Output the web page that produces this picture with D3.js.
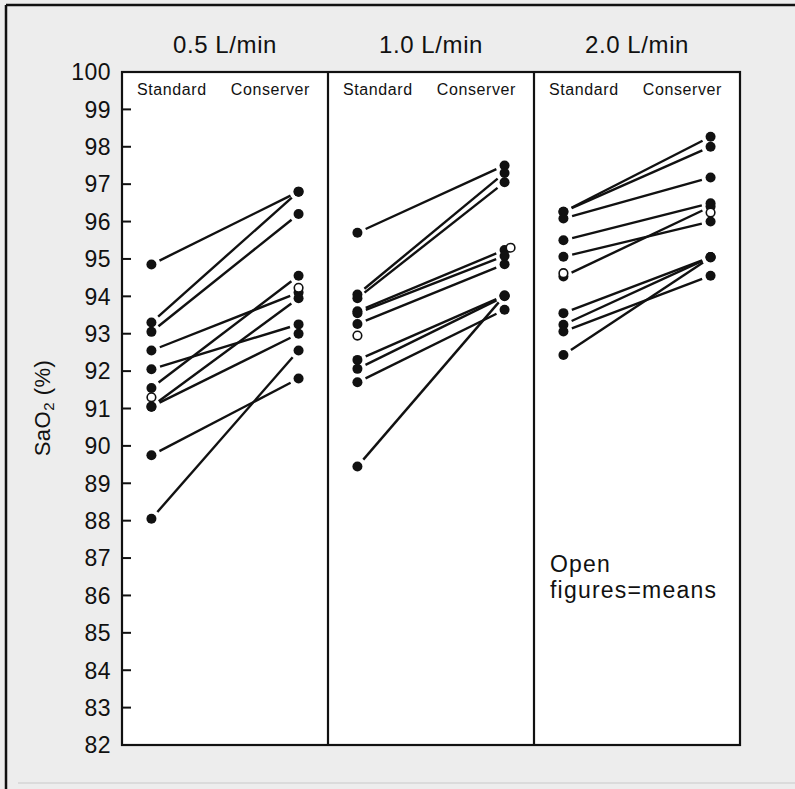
<!DOCTYPE html>
<html>
<head>
<meta charset="utf-8">
<script src="https://cdn.jsdelivr.net/npm/d3@7"></script>
<style>
  body { margin: 0; background: #ededed; }
  svg { display: block; font-family: "Liberation Sans", Arial, sans-serif; }
</style>
</head>
<body>
<svg id="chart" width="795" height="789"></svg>
<script>
// flow rates (one panel each) and the two devices
const panels = ["0.5 L/min", "1.0 L/min", "2.0 L/min"]
const devices = ["Standard", "Conserver"]
const yTicks = d3.range(82, 101)

// SaO2 per subject, same order in both arrays (one line per subject)
const standard05 = [94.85, 93.3, 93.05, 92.55, 92.05, 91.55, 91.05, 91.05, 89.75, 88.05]
const conserver05 = [96.8, 96.8, 96.2, 94.1, 93.25, 94.55, 93.95, 93.0, 91.8, 92.55]
const standard10 = [95.7, 94.05, 93.95, 93.6, 93.55, 93.26, 92.3, 92.06, 91.7, 89.45]
const conserver10 = [97.5, 97.3, 97.05, 95.24, 95.08, 94.86, 94.02, 94.0, 93.64, 94.02]
const standard20 = [96.26, 96.26, 96.08, 95.5, 95.06, 94.53, 93.55, 93.24, 93.06, 92.43]
const conserver20 = [98.27, 98.0, 97.18, 96.49, 96.0, 96.4, 95.05, 95.05, 94.55, 95.04]

// open figures = means
const meanStandard = [91.3, 92.95, 94.62]
const meanConserver = [94.23, 95.3, 96.24]

const standardAll = [standard05, standard10, standard20]
const conserverAll = [conserver05, conserver10, conserver20]

const svg = d3.select("#chart")

// page border like the scanned figure
svg.append("rect").attr("x", 0).attr("y", 0).attr("width", 795).attr("height", 789).attr("fill", "#ededed")
svg.append("line").attr("x1", 6).attr("x2", 6).attr("y1", 5).attr("y2", 789).attr("stroke", "#111").attr("stroke-width", 2.5)
svg.append("line").attr("x1", 6).attr("x2", 795).attr("y1", 5).attr("y2", 5).attr("stroke", "#111").attr("stroke-width", 2.5)
svg.append("line").attr("x1", 18).attr("x2", 795).attr("y1", 783).attr("y2", 783).attr("stroke", "#d4d4d4").attr("stroke-width", 1.5)

const plotLeft = 122, plotRight = 740, plotTop = 72, plotBottom = 745

const xPanel = d3.scaleBand().domain(panels).range([plotLeft, plotRight])
const xDev = d3.scalePoint().domain(devices).range([0, xPanel.bandwidth()]).padding(0.2)
const y = d3.scaleLinear().domain([82, 100]).range([plotBottom, plotTop])

// white plot area
svg.append("rect")
  .attr("x", plotLeft).attr("y", plotTop)
  .attr("width", plotRight - plotLeft).attr("height", plotBottom - plotTop)
  .attr("fill", "#fff")

// y axis ticks (inward) and labels
const yAxis = svg.append("g")
yAxis.selectAll("line")
  .data(yTicks.filter(d => d > 82 && d < 100))
  .join("line")
  .attr("x1", plotLeft).attr("x2", plotLeft + 9)
  .attr("y1", d => y(d)).attr("y2", d => y(d))
  .attr("stroke", "#111").attr("stroke-width", 2)
yAxis.selectAll("text")
  .data(yTicks)
  .join("text")
  .attr("x", 111)
  .attr("y", d => y(d))
  .attr("dy", "0.36em")
  .attr("text-anchor", "end")
  .attr("font-size", 23)
  .attr("letter-spacing", 0.5)
  .attr("fill", "#111")
  .text(d => d)

// y title
svg.append("text")
  .attr("transform", "translate(50,408) rotate(-90)")
  .attr("text-anchor", "middle")
  .attr("font-size", 22)
  .attr("letter-spacing", 0.5)
  .attr("fill", "#111")
  .html('SaO<tspan font-size="15" dy="4">2</tspan><tspan dy="-4"> (%)</tspan>')

// panel titles and device labels
panels.forEach(function (p, i) {
  const x0 = xPanel(p)
  svg.append("text")
    .attr("x", x0 + xPanel.bandwidth() / 2)
    .attr("y", 53)
    .attr("text-anchor", "middle")
    .attr("font-size", 24)
    .attr("letter-spacing", 0.6)
    .attr("fill", "#111")
    .text(p)

  svg.append("text")
    .attr("x", x0 + 15)
    .attr("y", 95)
    .attr("font-size", 16)
    .attr("letter-spacing", 0.6)
    .attr("fill", "#111")
    .text(devices[0])
  svg.append("text")
    .attr("x", x0 + xPanel.bandwidth() - 18)
    .attr("y", 95)
    .attr("text-anchor", "end")
    .attr("font-size", 16)
    .attr("letter-spacing", 0.6)
    .attr("fill", "#111")
    .text(devices[1])

  const xs = x0 + xDev("Standard")
  const xc = x0 + xDev("Conserver")
  const pairs = standardAll[i].map((s, k) => [s, conserverAll[i][k]])

  const g = svg.append("g")

  // connecting lines, stopping short of the dots
  g.selectAll("line")
    .data(pairs)
    .join("line")
    .each(function (d) {
      const ax = xs, ay = y(d[0]), bx = xc, by = y(d[1])
      const len = Math.hypot(bx - ax, by - ay)
      const ux = (bx - ax) / len, uy = (by - ay) / len
      const gap = 9
      d3.select(this)
        .attr("x1", ax + ux * gap).attr("y1", ay + uy * gap)
        .attr("x2", bx - ux * gap).attr("y2", by - uy * gap)
    })
    .attr("stroke", "#111")
    .attr("stroke-width", 2.4)

  g.selectAll("circle.std")
    .data(standardAll[i])
    .join("circle")
    .attr("class", "std")
    .attr("cx", xs).attr("cy", d => y(d)).attr("r", 5)
    .attr("fill", "#111")

  g.selectAll("circle.con")
    .data(conserverAll[i])
    .join("circle")
    .attr("class", "con")
    .attr("cx", xc).attr("cy", d => y(d)).attr("r", 5)
    .attr("fill", "#111")

  // means as open circles
  g.append("circle")
    .attr("cx", xs).attr("cy", y(meanStandard[i])).attr("r", 4.3)
    .attr("fill", "#fff").attr("stroke", "#111").attr("stroke-width", 1.6)
  g.append("circle")
    .attr("cx", xc + (i === 1 ? 6 : 0)).attr("cy", y(meanConserver[i])).attr("r", 4.3)
    .attr("fill", "#fff").attr("stroke", "#111").attr("stroke-width", 1.6)
})

// frame and panel dividers
svg.append("rect")
  .attr("x", plotLeft).attr("y", plotTop)
  .attr("width", plotRight - plotLeft).attr("height", plotBottom - plotTop)
  .attr("fill", "none").attr("stroke", "#111").attr("stroke-width", 2.2)
svg.selectAll("line.div")
  .data(panels.slice(1))
  .join("line")
  .attr("class", "div")
  .attr("x1", d => xPanel(d)).attr("x2", d => xPanel(d))
  .attr("y1", plotTop).attr("y2", plotBottom)
  .attr("stroke", "#111").attr("stroke-width", 2.2)

// note
const note = svg.append("text").attr("font-size", 23).attr("letter-spacing", 1.2).attr("fill", "#111")
note.append("tspan").attr("x", 550).attr("y", 572).text("Open")
note.append("tspan").attr("x", 550).attr("y", 598).text("figures=means")
</script>
</body>
</html>
